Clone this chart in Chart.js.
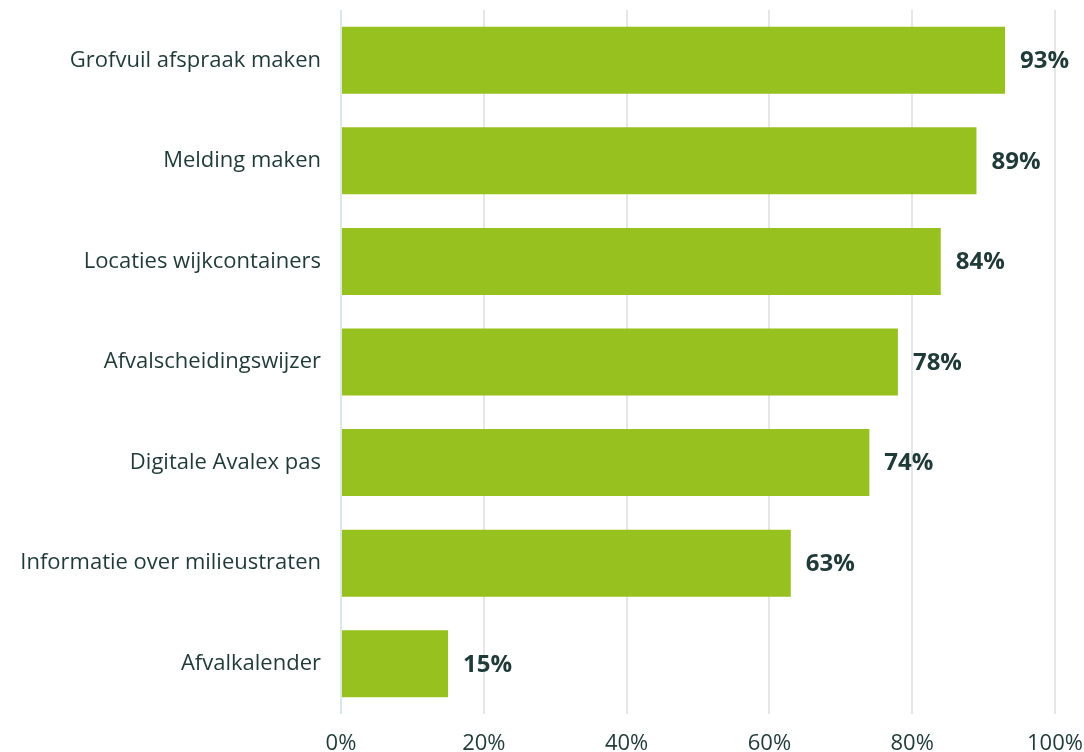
<!DOCTYPE html>
<html>
<head>
<meta charset="utf-8">
<script src="https://cdn.jsdelivr.net/npm/chart.js@4/dist/chart.umd.min.js"></script>
<style>
  html, body { margin: 0; padding: 0; background: #fff; }
  #wrap { width: 1084px; height: 752px; }
</style>
</head>
<body>
<div id="wrap"><canvas id="chart" width="1084" height="752"></canvas></div>
<script>
const categories = [
  'Grofvuil afspraak maken',
  'Melding maken',
  'Locaties wijkcontainers',
  'Afvalscheidingswijzer',
  'Digitale Avalex pas',
  'Informatie over milieustraten',
  'Afvalkalender'
];
const values = [93, 89, 84, 78, 74, 63, 15];
const xTicks = [0, 20, 40, 60, 80, 100];

const textColor = '#1f3a37';
const barColor = '#97c11f';
const fontFamily = '"Open Sans", Lato, sans-serif';

const valueLabels = {
  id: 'valueLabels',
  afterDatasetsDraw(chart) {
    const ctx = chart.ctx;
    const meta = chart.getDatasetMeta(0);
    ctx.save();
    ctx.font = `bold 24px ${fontFamily}`;
    ctx.fillStyle = textColor;
    ctx.textAlign = 'left';
    ctx.textBaseline = 'middle';
    meta.data.forEach((bar, i) => {
      ctx.fillText(values[i] + '%', bar.x + 15, bar.y + 1);
    });
    ctx.restore();
  }
};

new Chart(document.getElementById('chart'), {
  type: 'bar',
  data: {
    labels: categories,
    datasets: [{
      data: values,
      backgroundColor: barColor,
      borderWidth: 0,
      barPercentage: 0.74,
      categoryPercentage: 0.9
    }]
  },
  options: {
    indexAxis: 'y',
    responsive: false,
    animation: false,
    layout: { padding: { top: 10, right: 29, left: 0, bottom: 0 } },
    plugins: { legend: { display: false }, tooltip: { enabled: false } },
    scales: {
      x: {
        min: 0,
        max: 100,
        afterBuildTicks: (scale) => { scale.ticks = xTicks.map(v => ({ value: v })); },
        afterFit: (scale) => {
          scale.height = 38;
          scale.paddingLeft = 0;
          scale.paddingRight = 0;
        },
        border: { display: false },
        grid: {
          drawTicks: false,
          lineWidth: 2,
          color: (c) => c.tick && c.tick.value === 0 ? '#d9e9e7' : '#e5e7e6'
        },
        ticks: {
          padding: 17,
          color: textColor,
          font: { family: fontFamily, size: 22 },
          callback: (v) => v + '%'
        }
      },
      y: {
        afterFit: (scale) => {
          scale.width = 341;
          scale.paddingTop = 0;
          scale.paddingBottom = 0;
        },
        border: { display: false },
        grid: { display: false, drawTicks: false },
        ticks: {
          padding: 20,
          color: textColor,
          font: { family: fontFamily, size: 22 }
        }
      }
    }
  },
  plugins: [valueLabels]
});
</script>
</body>
</html>
